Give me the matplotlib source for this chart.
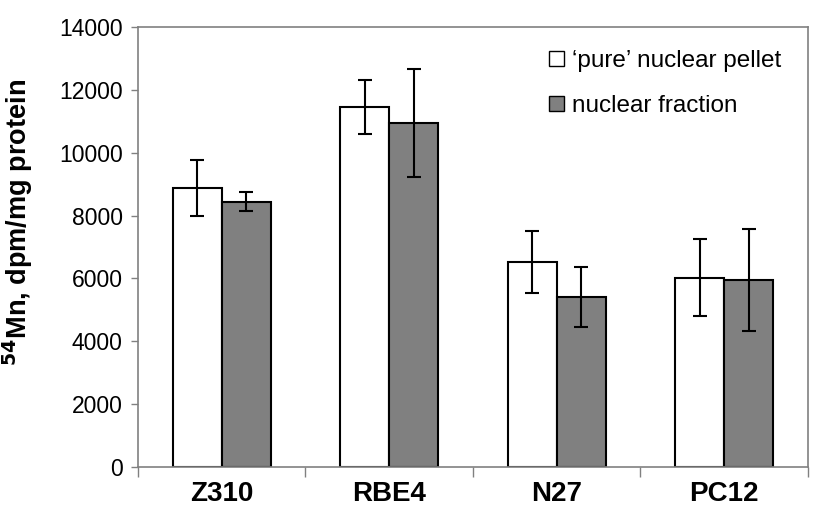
import numpy as np
import matplotlib.pyplot as plt
from matplotlib.patches import Patch
from matplotlib.ticker import FixedLocator

plt.rcParams['font.family'] = ['Liberation Sans', 'DejaVu Sans']

# data
cell_lines = ["Z310", "RBE4", "N27", "PC12"]
pure_pellet = [8870, 11450, 6530, 6020]
pure_pellet_err = [890, 855, 985, 1220]
nuclear_fraction = [8440, 10940, 5410, 5940]
nuclear_fraction_err = [300, 1720, 945, 1620]
yticks = [0, 2000, 4000, 6000, 8000, 10000, 12000, 14000]

fig = plt.figure(figsize=(8.21, 5.28), dpi=100)
ax = fig.add_axes([0.168, 0.1155, 0.816, 0.8335])

x = np.arange(len(cell_lines))
w = 0.293
err_kw = dict(ecolor='black', elinewidth=1.5, capsize=5, capthick=1.5)

ax.bar(x - w / 2, pure_pellet, w, yerr=pure_pellet_err, color='white',
       edgecolor='black', linewidth=1.5, error_kw=err_kw, zorder=2)
ax.bar(x + w / 2, nuclear_fraction, w, yerr=nuclear_fraction_err, color='#808080',
       edgecolor='black', linewidth=1.5, error_kw=err_kw, zorder=2)

ax.set_xlim(-0.5, len(cell_lines) - 0.5)
ax.set_ylim(0, 14000)
ax.set_yticks(yticks)
ax.set_yticklabels([str(v) for v in yticks], fontsize=16.5)

ax.set_xticks(x)
ax.set_xticklabels(cell_lines, fontsize=20, fontweight='bold')
ax.tick_params(axis='x', which='major', length=0, pad=10)
ax.xaxis.set_minor_locator(FixedLocator(np.arange(-0.5, len(cell_lines), 1.0)))
ax.tick_params(axis='x', which='minor', length=7, color='#808080', width=1)
ax.tick_params(axis='y', length=5, color='#808080', width=1, pad=6)

for s in ax.spines.values():
    s.set_color('#808080')
    s.set_linewidth(1.2)

ax.set_ylabel(r'$^{\mathbf{54}}$Mn, dpm/mg protein', fontsize=19.5,
              fontweight='bold')
ax.yaxis.set_label_coords(-0.153, 0.555)

handles = [Patch(facecolor='white', edgecolor='black', linewidth=1),
           Patch(facecolor='#808080', edgecolor='black', linewidth=1)]
ax.legend(handles, ["\u2018pure\u2019 nuclear pellet", "nuclear fraction"],
          loc='upper right', bbox_to_anchor=(0.993, 0.997), frameon=False,
          fontsize=17.5, handlelength=0.6, handleheight=0.6, handletextpad=0.35,
          labelspacing=0.95)

fig.savefig("out.png", dpi=100)
